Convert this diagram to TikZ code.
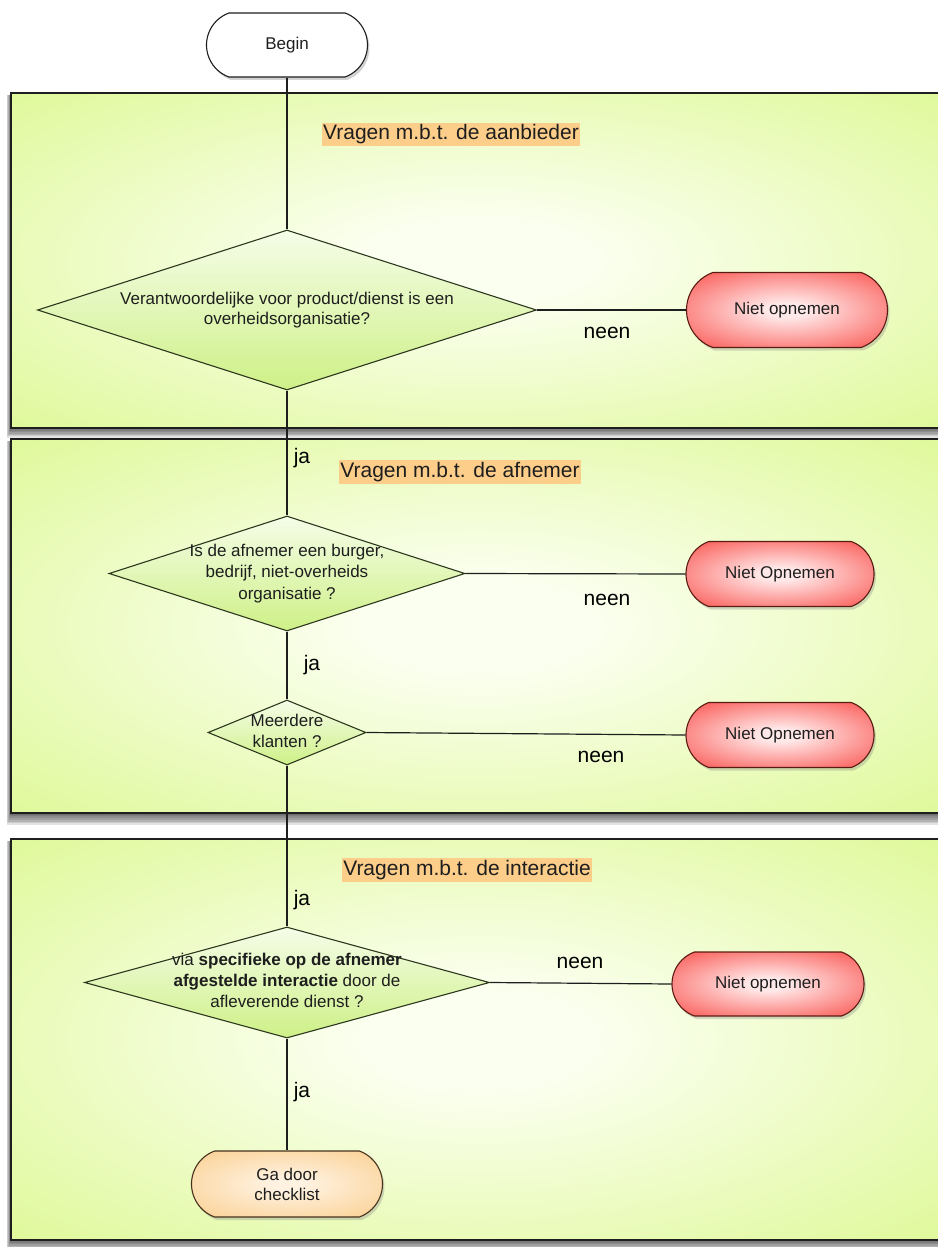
\documentclass[tikz,border=0pt]{standalone}
\usepackage{fontspec}
\setmainfont{Liberation Sans}
\usetikzlibrary{shapes.geometric,shapes.misc,shadows}

\definecolor{pinner}{RGB}{251,255,240}
\definecolor{pouter}{RGB}{212,246,118}
\definecolor{dtop}{RGB}{245,253,232}
\definecolor{dbot}{RGB}{206,240,135}
\definecolor{redout}{RGB}{248,48,42}
\definecolor{redin}{RGB}{255,232,232}
\definecolor{redline}{RGB}{90,28,18}
\definecolor{orout}{RGB}{249,196,118}
\definecolor{orin}{RGB}{255,242,225}
\definecolor{orline}{RGB}{70,50,30}
\definecolor{titlebg}{RGB}{252,206,138}
\definecolor{ink}{RGB}{30,30,30}
\definecolor{wire}{RGB}{30,30,30}
\definecolor{dline}{RGB}{45,55,30}

\pgfdeclareradialshading{panelshade}{\pgfpoint{0bp}{0bp}}{color(0bp)=(pinner); color(6bp)=(pinner); color(48bp)=(pouter); color(75bp)=(pouter)}
\pgfdeclareradialshading{redshade}{\pgfpoint{0bp}{0bp}}{color(0bp)=(redin); color(5bp)=(redin); color(42bp)=(redout); color(75bp)=(redout)}
\pgfdeclareradialshading{orshade}{\pgfpoint{0bp}{0bp}}{color(0bp)=(orin); color(4bp)=(orin); color(45bp)=(orout); color(75bp)=(orout)}

\tikzset{
  panel/.style={draw=wire, line width=1.3pt, shading=panelshade},
  terminal/.style={rounded rectangle, rounded rectangle arc length=140, line width=1.1pt,
    font=\fontsize{17}{20}\selectfont, text=ink, inner sep=0pt, align=center},
  beginbox/.style={terminal, draw=wire, fill=white,
    drop shadow={shadow xshift=2pt, shadow yshift=-3pt, opacity=0.35}},
  stopbox/.style={terminal, draw=redline, shading=redshade,
    drop shadow={shadow xshift=2pt, shadow yshift=-3pt, opacity=0.3}},
  gobox/.style={terminal, draw=orline, shading=orshade,
    drop shadow={shadow xshift=2pt, shadow yshift=-3pt, opacity=0.3}},
  decision/.style={diamond, draw=dline, line width=1.1pt, top color=dtop, bottom color=dbot,
    inner sep=0pt, font=\fontsize{17}{20}\selectfont, text=ink},
  edgelab/.style={font=\fontsize{21}{24}\selectfont, text=black, inner sep=0pt},
  titlebox/.style={fill=titlebg, font=\fontsize{21}{24}\selectfont, text=ink,
    inner xsep=1pt, inner ysep=2pt},
  wireline/.style={draw=wire, line width=1.2pt}
}

\newcommand{\dtext}[1]{\makebox[0pt]{\begin{tabular}{@{}c@{}}#1\end{tabular}}}

\begin{document}
\begin{tikzpicture}[x=1pt,y=-1pt]
\useasboundingbox (0,0) rectangle (937,1247);
\fill[white] (0,0) rectangle (937,1247);

% panel shadows
\foreach \k in {1,...,7} {
  \fill[black,opacity=0.11] (11-\k*0.6,95) rectangle (945,428+1.4*\k);
  \fill[black,opacity=0.11] (11-\k*0.6,441) rectangle (945,813+1.7*\k);
  \fill[black,opacity=0.11] (11-\k*0.6,841) rectangle (945,1240+1.4*\k);
}
% panels
\path[panel] (11,93) rectangle (945,428);
\path[panel] (11,439) rectangle (945,813);
\path[panel] (11,839) rectangle (945,1240);

% titles
\node[titlebox] (t1) at (451,134.5) {Vragen m.b.t. de aanbieder};
\node[titlebox] (t2) at (460,472) {Vragen m.b.t. de afnemer};
\node[titlebox] (t3) at (467,870) {Vragen m.b.t. de interactie};

% nodes
\node[beginbox, minimum width=161pt, minimum height=64pt] (begin) at (287,45) {Begin};

\node[decision, minimum width=499pt, minimum height=160pt] (d1) at (287,310)
  {\fontsize{17}{20}\selectfont\dtext{Verantwoordelijke voor product/dienst is een\\overheidsorganisatie?}};
\node[stopbox, minimum width=201pt, minimum height=75pt] (n1) at (787,310) {Niet opnemen};

\node[decision, minimum width=356pt, minimum height=115pt] (d2) at (287,573.5)
  {\fontsize{17}{21.5}\selectfont\dtext{Is de afnemer een burger,\\bedrijf, niet-overheids\\organisatie ?}};
\node[stopbox, minimum width=188pt, minimum height=65pt] (n2) at (780,574) {Niet Opnemen};

\node[decision, minimum width=158pt, minimum height=65pt] (d3) at (287,732.5)
  {\fontsize{17}{21.5}\selectfont\dtext{Meerdere\\klanten ?}};
\node[stopbox, minimum width=188pt, minimum height=65pt] (n3) at (780,735) {Niet Opnemen};

\node[decision, minimum width=405pt, minimum height=111pt] (d4) at (287,982.5)
  {\fontsize{17}{21}\selectfont\dtext{via \textbf{specifieke op de afnemer}\\\textbf{afgestelde interactie} door de\\afleverende dienst ?}};
\node[stopbox, minimum width=192pt, minimum height=64pt] (n4) at (768,984) {Niet opnemen};

\node[gobox, minimum width=191pt, minimum height=66pt] (go) at (287,1184) {Ga door\\checklist};

% connectors
\draw[wireline] (begin.south) -- (d1.north);
\draw[wireline] (d1.south) -- (d2.north);
\draw[wireline] (d2.south) -- (d3.north);
\draw[wireline] (d3.south) -- (d4.north);
\draw[wireline] (d4.south) -- (go.north);
\draw[wireline] (d1.east) -- (n1.west);
\draw[wireline] (d2.east) -- (n2.west);
\draw[wireline] (d3.east) -- (n3.west);
\draw[wireline] (d4.east) -- (n4.west);

% edge labels
\node[edgelab] (ja1) at (302,458) {ja};
\node[edgelab] (ja2) at (312,665) {ja};
\node[edgelab] (ja3) at (302,900) {ja};
\node[edgelab] (ja4) at (302,1092) {ja};
\node[edgelab] (ne1) at (607,333) {neen};
\node[edgelab] (ne2) at (607,600) {neen};
\node[edgelab] (ne3) at (601,757) {neen};
\node[edgelab] (ne4) at (580,963) {neen};
\end{tikzpicture}
\end{document}
